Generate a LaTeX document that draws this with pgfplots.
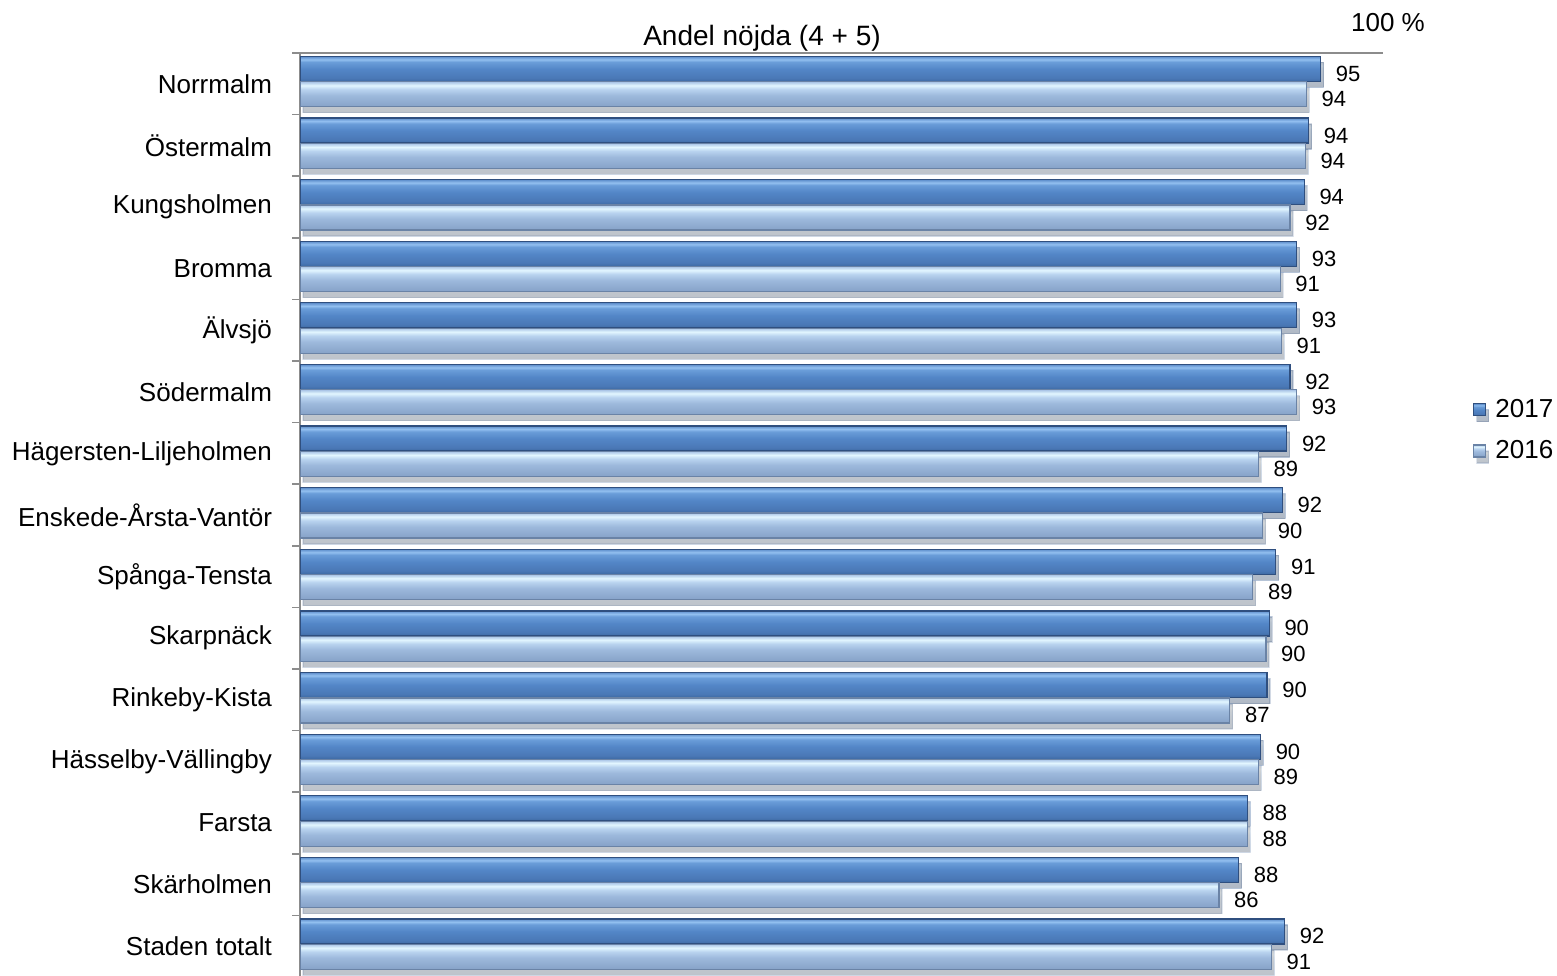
\documentclass[border=0pt]{standalone}
\usepackage{fontspec}
\setmainfont{Liberation Sans}
\usepackage{pgfplots}
\pgfplotsset{compat=1.18}
\usepackage{pgfplotstable}
\usetikzlibrary{shadows}

\definecolor{b17border}{HTML}{2F4F7F}
\definecolor{b16border}{HTML}{6A83A6}
\definecolor{c17a}{HTML}{3E6AA3}
\definecolor{c17b}{HTML}{4A78B6}
\definecolor{c17c}{HTML}{5386C7}
\definecolor{c17d}{HTML}{6A9DD9}
\definecolor{c17e}{HTML}{93C0F0}
\definecolor{c17f}{HTML}{5E8ECB}
\definecolor{c16a}{HTML}{86A2C8}
\definecolor{c16b}{HTML}{9DB9DC}
\definecolor{c16c}{HTML}{B9D3EF}
\definecolor{c16d}{HTML}{E2F6FF}
\definecolor{c16e}{HTML}{A9C4E6}
\definecolor{axgrey}{HTML}{8C8C8C}

\pgfdeclareverticalshading{bar17}{100bp}{color(0bp)=(c17a); color(25bp)=(c17a); color(32bp)=(c17b); color(50bp)=(c17c); color(64bp)=(c17d); color(69bp)=(c17e); color(75bp)=(c17f); color(100bp)=(c17f)}
\pgfdeclareverticalshading{bar16}{100bp}{color(0bp)=(c16a); color(25bp)=(c16a); color(48bp)=(c16b); color(60bp)=(c16c); color(68bp)=(c16d); color(75bp)=(c16e); color(100bp)=(c16e)}

\pgfplotstableread{
y v17 l17 v16 l16
14 95.1 95 93.8 94
13 94.0 94 93.7 94
12 93.6 94 92.3 92
11 92.9 93 91.4 91
10 92.9 93 91.5 91
9 92.3 92 92.9 93
8 92.0 92 89.4 89
7 91.6 92 89.8 90
6 91.0 91 88.9 89
5 90.4 90 90.1 90
4 90.2 90 86.8 87
3 89.6 90 89.4 89
2 88.4 88 88.4 88
1 87.6 88 85.8 86
0 91.8 92 90.6 91
}\data

\pgfplotsset{
  s17/.style={bar shift=7.4pt, shading=bar17, draw=b17border, line width=0.6pt},
  s16/.style={bar shift=-5.3pt, shading=bar16, draw=b16border, line width=0.6pt},
  shd/.style={drop shadow={shadow xshift=1.5pt, shadow yshift=-3pt, fill=black, opacity=0.2}},
}

\begin{document}
\begin{tikzpicture}
\path[use as bounding box] (0,0) rectangle (778.5pt,487.5pt);
\begin{axis}[
  at={(150pt,-1pt)}, anchor=south west,
  scale only axis, width=541.5pt, height=462pt,
  xmin=1.8, xmax=100.8, ymin=-0.5, ymax=14.5,
  axis x line*=top, axis y line*=left,
  axis line style={axgrey, line width=1pt, -},
  xtick=\empty,
  ytick={0,...,14},
  yticklabels={Staden totalt, Skärholmen, Farsta, Hässelby-Vällingby, Rinkeby-Kista, Skarpnäck, Spånga-Tensta, Enskede-Årsta-Vantör, Hägersten-Liljeholmen, Södermalm, Älvsjö, Bromma, Kungsholmen, Östermalm, Norrmalm},
  major tick length=0pt,
  minor ytick={-0.5,0.5,...,14.5},
  minor tick length=4pt,
  tick align=outside,
  minor tick style={axgrey, line width=0.8pt},
  yticklabel style={font=\fontsize{13}{15}\selectfont, xshift=-10.5pt},
  /pgf/number format/assume math mode=true,
  clip=true,
  xbar, bar width=12.5pt,
  point meta=explicit,
  nodes near coords,
  every node near coord/.append style={font=\fontsize{11}{13}\selectfont, text=black, anchor=west, xshift=4pt, yshift=-2.5pt},
  legend style={at={(rel axis cs:1.083,0.63)}, anchor=north west, draw=none, fill=none,
    font=\fontsize{13}{15}\selectfont, row sep=6pt, column sep=2.5pt, inner sep=0pt},
  legend cell align=left,
  legend image code/.code={\path[#1] (0pt,-3pt) rectangle (6pt,3pt);},
]
\pgfplotsinvokeforeach{0,...,14}{
  \addplot[s17, shd, forget plot, restrict y to domain=#1:#1]
    table[x=v17, y=y, meta=l17] {\data};
  \addplot[s16, shd, forget plot, restrict y to domain=#1:#1]
    table[x=v16, y=y, meta=l16] {\data};
}
\addlegendimage{s17, shd}
\addlegendentry{2017}
\addlegendimage{s16, shd}
\addlegendentry{2016}
\end{axis}
\node[font=\fontsize{14}{16}\selectfont] at (381pt,468.5pt) {Andel nöjda (4 + 5)};
\node[font=\fontsize{13}{15}\selectfont] at (694pt,476pt) {100 \%};
\end{tikzpicture}
\end{document}
